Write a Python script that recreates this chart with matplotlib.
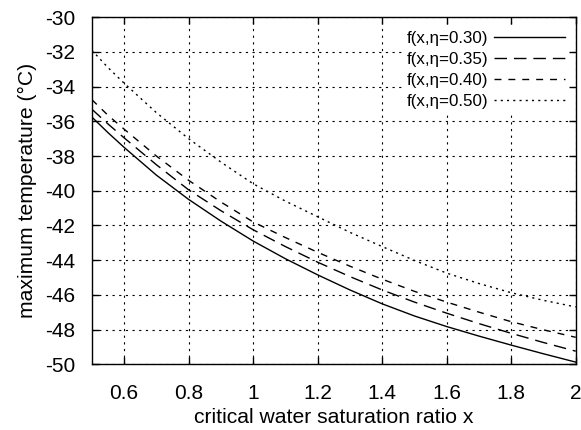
import matplotlib
matplotlib.use("Agg")
from matplotlib import pyplot as plt

plt.rcParams['font.family'] = ['Liberation Sans', 'DejaVu Sans']
plt.rcParams['axes.unicode_minus'] = False

# values
x = [0.5, 0.55, 0.6, 0.7, 0.8, 0.9, 1.0, 1.1, 1.2, 1.3, 1.4, 1.5, 1.6, 1.7, 1.8, 1.9, 2.0]
t_030 = [-35.75, -36.65, -37.5, -39.1, -40.5, -41.75, -42.9, -43.92, -44.85, -45.72, -46.52, -47.22, -47.83, -48.38, -48.9, -49.4, -49.88]
t_035 = [-35.3, -36.15, -36.95, -38.5, -39.95, -41.15, -42.25, -43.22, -44.12, -44.95, -45.72, -46.42, -47.06, -47.66, -48.22, -48.75, -49.25]
t_040 = [-34.75, -35.65, -36.45, -38.0, -39.4, -40.65, -41.8, -42.7, -43.55, -44.35, -45.1, -45.8, -46.42, -47.0, -47.55, -48.02, -48.45]
t_050 = [-31.9, -32.9, -33.8, -35.5, -37.0, -38.35, -39.6, -40.6, -41.5, -42.4, -43.22, -44.02, -44.75, -45.35, -45.88, -46.32, -46.7]
labels = ['f(x,η=0.30)', 'f(x,η=0.35)', 'f(x,η=0.40)', 'f(x,η=0.50)']

fig = plt.figure(figsize=(5.81, 4.30), dpi=100)
ax = fig.add_axes([0.158, 0.153, 0.833, 0.807])

ax.plot(x, t_030, color='black', lw=1.0, label=labels[0])
ax.plot(x, t_035, color='black', lw=1.0, dashes=(9, 5), label=labels[1])
ax.plot(x, t_040, color='black', lw=1.0, dashes=(5, 5), label=labels[2])
ax.plot(x, t_050, color='black', lw=1.0, dashes=(1.5, 3), label=labels[3])

ax.set_xlim(0.5, 2)
ax.set_ylim(-50, -30)
ax.set_xticks([0.6, 0.8, 1, 1.2, 1.4, 1.6, 1.8, 2])
ax.set_xticklabels(['0.6', '0.8', '1', '1.2', '1.4', '1.6', '1.8', '2'])
ax.set_yticks(range(-50, -29, 2))
ax.grid(True, color='black', lw=0.8, dashes=(2, 4))
ax.tick_params(direction='in', top=True, right=True, length=5, width=1, labelsize=15)
ax.tick_params(axis='x', pad=14)
ax.tick_params(axis='y', pad=12)
for s in ax.spines.values():
    s.set_linewidth(1.0)

ax.set_xlabel('critical water saturation ratio x', fontsize=15.2, labelpad=4)
ax.set_ylabel('maximum temperature (°C)', fontsize=15.2, labelpad=6)

leg = ax.legend(loc='upper right', bbox_to_anchor=(0.985, 0.97), frameon=True, markerfirst=False,
                fontsize=12.2, handlelength=4.2, labelspacing=0.36, borderaxespad=0.0,
                borderpad=0.2, handletextpad=0.35, fancybox=False)
leg.get_frame().set_edgecolor('none')
leg.get_frame().set_facecolor('white')
leg.get_frame().set_alpha(1.0)

fig.savefig('out.png', dpi=100)
